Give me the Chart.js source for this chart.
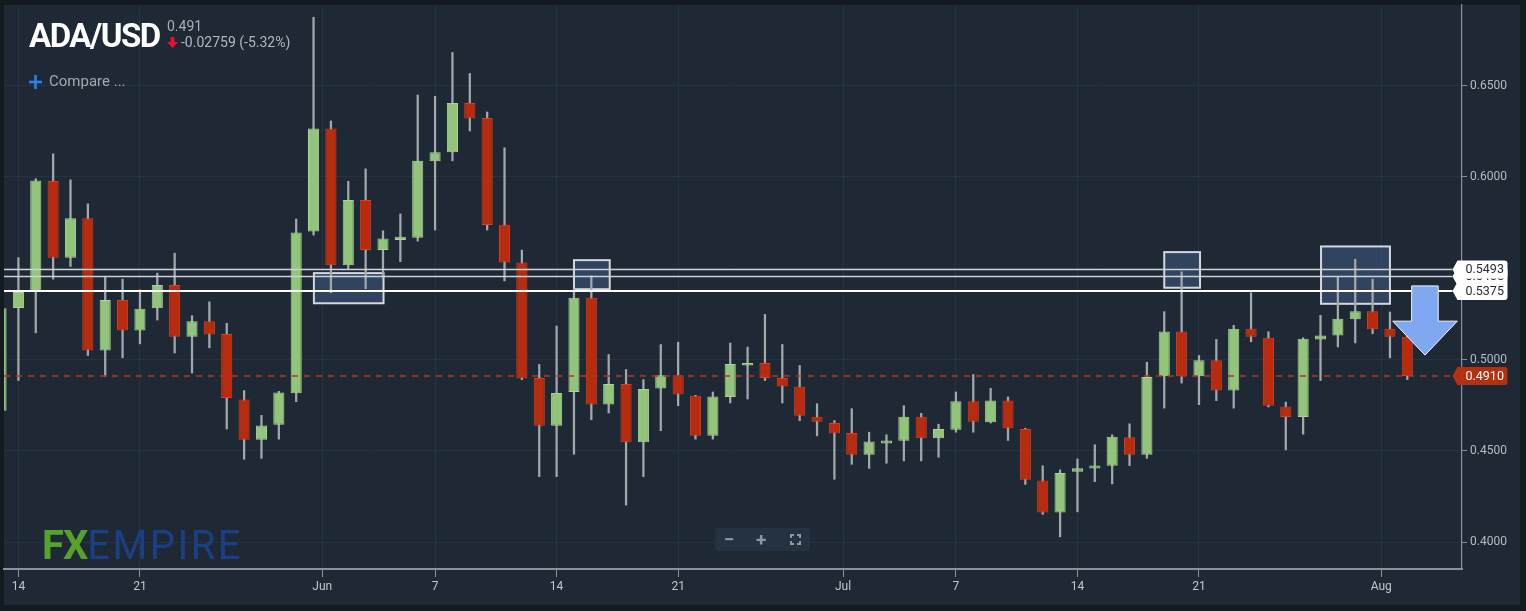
<!DOCTYPE html>
<html lang="pt-BR">
<head>
<meta charset="utf-8">
<title>ADA/USD</title>
<script src="https://cdn.jsdelivr.net/npm/chart.js@4.4.1/dist/chart.umd.min.js"></script>
<style>
  body { margin: 0; background: #131a20; }
  .painel { position: relative; width: 1526px; height: 611px; font-family: Roboto, "Noto Sans", sans-serif; }
  canvas { position: absolute; left: 0; top: 0; }
  .txt { position: absolute; line-height: 1; white-space: nowrap; }
  .titulo { left: 29px; top: 18.5px; font-size: 33px; font-weight: 700; color: #ffffff; letter-spacing: -1.5px; }
  .preco { left: 167px; top: 19px; font-size: 14px; color: #a9afb5; }
  .variacao { left: 181px; top: 34.5px; font-size: 14px; color: #b3b8bd; }
  .compare { left: 49px; top: 74px; font-size: 15px; color: #a3a9af; }
  .marca { left: 42px; top: 526px; font-size: 40px; }
  .marca .fx { color: #56a22b; font-weight: 700; letter-spacing: -1px; }
  .marca .empire { color: #1b3f85; font-weight: 400; letter-spacing: 2.4px; }
  .zoom { position: absolute; left: 715px; top: 528px; width: 95px; height: 23px; background: #243241; border-radius: 3px; }
  .zoom span { position: absolute; top: 2px; font-size: 19px; font-weight: 700; color: #8e979f; line-height: 1; }
  svg { position: absolute; }
</style>
</head>
<body>
<div class="painel">
  <canvas id="grafico" width="1526" height="611"></canvas>

  <div class="txt titulo">ADA/USD</div>
  <div class="txt preco">0.491</div>
  <svg style="left:167px;top:37px" width="11" height="11"><path d="M3.5 0 H7.5 V5 H11 L5.5 11 L0 5 H3.5 Z" fill="#e8112d"/></svg>
  <div class="txt variacao">-0.02759 (-5.32%)</div>

  <svg style="left:29px;top:75px" width="13" height="14"><rect x="5.2" y="0" width="2.6" height="14" fill="#2f7fe6"/><rect x="0" y="5.7" width="13" height="2.6" fill="#2f7fe6"/></svg>
  <div class="txt compare">Compare ...</div>

  <div class="txt marca"><span class="fx">FX</span><span class="empire">EMPIRE</span></div>

  <div class="zoom">
    <span style="left:9px">−</span>
    <span style="left:41px">+</span>
    <svg style="left:75px;top:6px" width="11" height="11"><path d="M1 4 V1 H4 M7 1 H10 V4 M10 7 V10 H7 M4 10 H1 V7" stroke="#8e979f" stroke-width="2" fill="none"/></svg>
  </div>
</div>

<script>
// Dados (um candle por dia)
const datas = [
  "May 13","May 14","May 15","May 16","May 17","May 18","May 19","May 20","May 21","May 22",
  "May 23","May 24","May 25","May 26","May 27","May 28","May 29","May 30","May 31","Jun 1",
  "Jun 2","Jun 3","Jun 4","Jun 5","Jun 6","Jun 7","Jun 8","Jun 9","Jun 10","Jun 11",
  "Jun 12","Jun 13","Jun 14","Jun 15","Jun 16","Jun 17","Jun 18","Jun 19","Jun 20","Jun 21",
  "Jun 22","Jun 23","Jun 24","Jun 25","Jun 26","Jun 27","Jun 28","Jun 29","Jun 30","Jul 1",
  "Jul 2","Jul 3","Jul 4","Jul 5","Jul 6","Jul 7","Jul 8","Jul 9","Jul 10","Jul 11",
  "Jul 12","Jul 13","Jul 14","Jul 15","Jul 16","Jul 17","Jul 18","Jul 19","Jul 20","Jul 21",
  "Jul 22","Jul 23","Jul 24","Jul 25","Jul 26","Jul 27","Jul 28","Jul 29","Jul 30","Jul 31",
  "Aug 1","Aug 2"
];

const abertura = [
  0.4720,0.5282,0.5374,0.5978,0.5557,0.5773,0.5049,0.5326,0.5159,0.5280,
  0.5408,0.5124,0.5209,0.5139,0.4781,0.4560,0.4643,0.4815,0.5701,0.6265,
  0.5516,0.5874,0.5599,0.5654,0.5666,0.6086,0.6135,0.6404,0.6322,0.5738,
  0.5531,0.4899,0.4637,0.4822,0.5338,0.4753,0.4866,0.4547,0.4841,0.4914,
  0.4802,0.4582,0.4795,0.4967,0.4981,0.4899,0.4852,0.4687,0.4652,0.4597,
  0.4478,0.4540,0.4555,0.4687,0.4569,0.4615,0.4771,0.4656,0.4776,0.4619,
  0.4337,0.4163,0.4386,0.4403,0.4418,0.4575,0.4478,0.4908,0.5154,0.4908,
  0.4996,0.4830,0.5168,0.5119,0.4743,0.4685,0.5110,0.5132,0.5220,0.5264,
  0.5168,0.5124
];

const maxima = [
  0.5310,0.5558,0.5990,0.6126,0.5984,0.5852,0.5454,0.5440,0.5381,0.5473,
  0.5582,0.5240,0.5316,0.5198,0.4830,0.4694,0.4826,0.5769,0.6874,0.6306,
  0.5976,0.6044,0.5705,0.5797,0.6448,0.6441,0.6681,0.6566,0.6355,0.6159,
  0.5599,0.4973,0.5183,0.5385,0.5458,0.5027,0.4945,0.4890,0.5082,0.5095,
  0.4804,0.4822,0.5090,0.5068,0.5247,0.5082,0.4967,0.4758,0.4666,0.4731,
  0.4602,0.4588,0.4747,0.4705,0.4646,0.4822,0.4918,0.4842,0.4795,0.4624,
  0.4418,0.4396,0.4456,0.4533,0.4588,0.4648,0.4985,0.5262,0.5480,0.5022,
  0.5110,0.5187,0.5366,0.5152,0.4767,0.5119,0.5242,0.5454,0.5549,0.5440,
  0.5260,0.5160
];

const minima = [
  0.4680,0.4885,0.5146,0.5440,0.5509,0.5022,0.4908,0.5009,0.5086,0.5216,
  0.5036,0.4926,0.5064,0.4619,0.4454,0.4459,0.4564,0.4769,0.5681,0.5366,
  0.5495,0.5388,0.5448,0.5536,0.5648,0.5709,0.6088,0.6251,0.5709,0.5430,
  0.4890,0.4359,0.4359,0.4481,0.4670,0.4707,0.4203,0.4359,0.4610,0.4747,
  0.4564,0.4564,0.4762,0.4784,0.4885,0.4762,0.4665,0.4582,0.4344,0.4426,
  0.4404,0.4432,0.4445,0.4445,0.4465,0.4602,0.4602,0.4652,0.4557,0.4316,
  0.4152,0.4029,0.4166,0.4331,0.4319,0.4419,0.4459,0.4734,0.4871,0.4753,
  0.4775,0.4734,0.5097,0.4740,0.4505,0.4591,0.4885,0.5069,0.5091,0.5141,
  0.5009,0.4890
];

const fechamento = [
  0.5280,0.5370,0.5980,0.5557,0.5773,0.5049,0.5326,0.5159,0.5278,0.5408,
  0.5124,0.5209,0.5137,0.4789,0.4560,0.4639,0.4819,0.5696,0.6265,0.5516,
  0.5874,0.5599,0.5663,0.5672,0.6088,0.6135,0.6404,0.6319,0.5736,0.5531,
  0.4896,0.4637,0.4816,0.5338,0.4753,0.4866,0.4547,0.4838,0.4914,0.4808,
  0.4582,0.4797,0.4976,0.4981,0.4899,0.4852,0.4692,0.4659,0.4595,0.4478,
  0.4551,0.4557,0.4687,0.4569,0.4619,0.4771,0.4659,0.4776,0.4624,0.4341,
  0.4163,0.4379,0.4404,0.4419,0.4577,0.4478,0.4904,0.5154,0.4908,0.4996,
  0.4830,0.5168,0.5124,0.4747,0.4685,0.5113,0.5132,0.5223,0.5264,0.5165,
  0.5124,0.4910
];

// eixo x: datas marcadas e seus textos
const ticksDatas = ["May 14","May 21","Jun 1","Jun 7","Jun 14","Jun 21","Jul 1","Jul 7","Jul 14","Jul 21","Aug 1"];
const ticksTexto = ["14","21","Jun","7","14","21","Jul","7","14","21","Aug"];

// eixo y
const ticksPreco = [0.40, 0.45, 0.50, 0.55, 0.60, 0.65];

// linhas horizontais desenhadas no gráfico
const niveis = [0.5455, 0.5493, 0.5375];
const ultimoPreco = 0.4910;

// zonas marcadas: [dia inicial, dia final, preço baixo, preço alto]
const zonas = [
  [18.02, 22.03, 0.5308, 0.5473],
  [33.00, 35.06, 0.5385, 0.5544],
  [67.00, 69.06, 0.5393, 0.5588],
  [76.03, 80.00, 0.5305, 0.5619]
];

// seta de baixa: [esq. cabeça, esq. haste, centro, dir. haste, dir. cabeça] e [topo, início da cabeça, ponta]
const setaX = [80.16, 81.25, 82.02, 82.78, 83.88];
const setaY = [0.5403, 0.5210, 0.5024];

// posição de cada tick (início do mês fica meio dia antes)
const posicoesTicks = ticksDatas.map((d, i) => {
  const idx = datas.indexOf(d);
  return isNaN(Number(ticksTexto[i])) ? idx - 0.5 : idx;
});

const verde = "#92c47c";
const verdeBorda = "#a9d592";
const vermelho = "#b72c0f";
const vermelhoBorda = "#dd3d1b";
const cinzaEixo = "#8b9198";
const grade = "#263340";

const sobe = (i) => fechamento[i] >= abertura[i];

// fundo do painel
const fundo = {
  id: "fundo",
  beforeDraw(chart) {
    const ctx = chart.ctx;
    ctx.save();
    ctx.fillStyle = "#131a20";
    ctx.fillRect(0, 0, chart.width, chart.height);
    ctx.fillStyle = "#1e2935";
    ctx.fillRect(4, 5, chart.width - 10, chart.height - 11);
    ctx.restore();
  }
};

// zonas (atrás dos candles)
const caixas = {
  id: "caixas",
  beforeDatasetsDraw(chart) {
    const { ctx, scales } = chart;
    ctx.save();
    zonas.forEach(z => {
      const x1 = scales.x.getPixelForValue(z[0]);
      const x2 = scales.x.getPixelForValue(z[1]);
      const y1 = scales.y.getPixelForValue(z[3]);
      const y2 = scales.y.getPixelForValue(z[2]);
      ctx.fillStyle = "rgba(62, 86, 124, 0.6)";
      ctx.fillRect(x1, y1, x2 - x1, y2 - y1);
      ctx.strokeStyle = "#d3d8de";
      ctx.lineWidth = 2;
      ctx.strokeRect(x1, y1, x2 - x1, y2 - y1);
    });
    ctx.restore();
  }
};

function etiqueta(ctx, x, y, texto, cor, corTexto) {
  const h = 18, ponta = 5, w = 50, r = 3;
  ctx.beginPath();
  ctx.moveTo(x, y);
  ctx.lineTo(x + ponta, y - h / 2);
  ctx.lineTo(x + ponta + w - r, y - h / 2);
  ctx.quadraticCurveTo(x + ponta + w, y - h / 2, x + ponta + w, y - h / 2 + r);
  ctx.lineTo(x + ponta + w, y + h / 2 - r);
  ctx.quadraticCurveTo(x + ponta + w, y + h / 2, x + ponta + w - r, y + h / 2);
  ctx.lineTo(x + ponta, y + h / 2);
  ctx.closePath();
  ctx.fillStyle = cor;
  ctx.fill();
  ctx.fillStyle = corTexto;
  ctx.font = "12.5px Roboto";
  ctx.textAlign = "left";
  ctx.textBaseline = "middle";
  ctx.fillText(texto, x + 13, y + 0.5);
}

// linhas, seta e etiquetas (por cima)
const desenhos = {
  id: "desenhos",
  afterDatasetsDraw(chart) {
    const { ctx, scales, chartArea } = chart;
    const xs = scales.x, ys = scales.y;
    const fim = chartArea.right - 9.5;
    ctx.save();

    // último preço tracejado
    const yp = ys.getPixelForValue(ultimoPreco);
    ctx.strokeStyle = "#b3361c";
    ctx.lineWidth = 1.5;
    ctx.setLineDash([6, 6]);
    ctx.beginPath();
    ctx.moveTo(chartArea.left, yp);
    ctx.lineTo(fim, yp);
    ctx.stroke();
    ctx.setLineDash([]);

    // níveis
    niveis.forEach((n, i) => {
      const y = ys.getPixelForValue(n);
      ctx.strokeStyle = i === 2 ? "#ffffff" : "#cdd2d7";
      ctx.lineWidth = i === 2 ? 2 : 1.5;
      ctx.beginPath();
      ctx.moveTo(chartArea.left, y);
      ctx.lineTo(fim, y);
      ctx.stroke();
    });

    // seta
    const px = setaX.map(v => xs.getPixelForValue(v));
    const py = setaY.map(v => ys.getPixelForValue(v));
    ctx.beginPath();
    ctx.moveTo(px[1], py[0]);
    ctx.lineTo(px[3], py[0]);
    ctx.lineTo(px[3], py[1]);
    ctx.lineTo(px[4], py[1]);
    ctx.lineTo(px[2], py[2]);
    ctx.lineTo(px[0], py[1]);
    ctx.lineTo(px[1], py[1]);
    ctx.closePath();
    ctx.fillStyle = "#7fa8f0";
    ctx.fill();
    ctx.strokeStyle = "#eef3fb";
    ctx.lineWidth = 1;
    ctx.stroke();

    // etiquetas do eixo
    niveis.forEach(n => {
      etiqueta(ctx, fim, ys.getPixelForValue(n), n.toFixed(4), "#ffffff", "#2a2e33");
    });
    etiqueta(ctx, fim, yp, ultimoPreco.toFixed(4), "#b5300f", "#ffffff");

    ctx.restore();
  }
};

const pontos = (a, b) => datas.map((d, i) => ({ x: i, y: [a[i], b[i]] }));

new Chart(document.getElementById("grafico"), {
  type: "bar",
  data: {
    datasets: [
      {
        label: "Corpo",
        data: pontos(abertura, fechamento),
        backgroundColor: datas.map((d, i) => sobe(i) ? verde : vermelho),
        borderColor: datas.map((d, i) => sobe(i) ? verdeBorda : vermelhoBorda),
        borderWidth: 1,
        borderSkipped: false,
        grouped: false,
        categoryPercentage: 1,
        barPercentage: 0.64,
        order: 0
      },
      {
        label: "Pavio",
        data: pontos(minima, maxima),
        backgroundColor: "#a3a8ad",
        borderWidth: 0,
        grouped: false,
        barThickness: 1.6,
        order: 1
      }
    ]
  },
  options: {
    responsive: false,
    animation: false,
    devicePixelRatio: 1,
    layout: { padding: { left: 4, top: 5, right: 0, bottom: 0 } },
    plugins: {
      legend: { display: false },
      tooltip: { enabled: false }
    },
    scales: {
      x: {
        type: "linear",
        min: 0.17,
        max: 84.15,
        offset: false,
        afterBuildTicks: (scale) => {
          scale.ticks = posicoesTicks.map(v => ({ value: v }));
        },
        afterFit: (scale) => {
          scale.height = 42;
          scale.paddingLeft = 0;
          scale.paddingRight = 0;
        },
        ticks: {
          autoSkip: false,
          maxRotation: 0,
          padding: 3,
          color: "#c2c7cc",
          font: { family: "Roboto", size: 12 },
          callback: (v, i) => ticksTexto[i]
        },
        grid: {
          offset: false,
          color: grade,
          tickColor: cinzaEixo,
          tickLength: 8
        },
        border: { color: cinzaEixo, width: 2 }
      },
      y: {
        type: "linear",
        position: "right",
        min: 0.3853,
        max: 0.6941,
        afterBuildTicks: (scale) => {
          scale.ticks = ticksPreco.map(v => ({ value: v }));
        },
        afterFit: (scale) => {
          scale.width = 64;
          scale.paddingTop = 0;
          scale.paddingBottom = 0;
        },
        ticks: {
          padding: 3,
          color: "#b7bcc1",
          font: { family: "Roboto", size: 12 },
          callback: (v) => v.toFixed(4)
        },
        grid: {
          color: grade,
          tickColor: cinzaEixo,
          tickLength: 5
        },
        border: { color: cinzaEixo, width: 1.2 }
      }
    }
  },
  plugins: [fundo, caixas, desenhos]
});
</script>
</body>
</html>
